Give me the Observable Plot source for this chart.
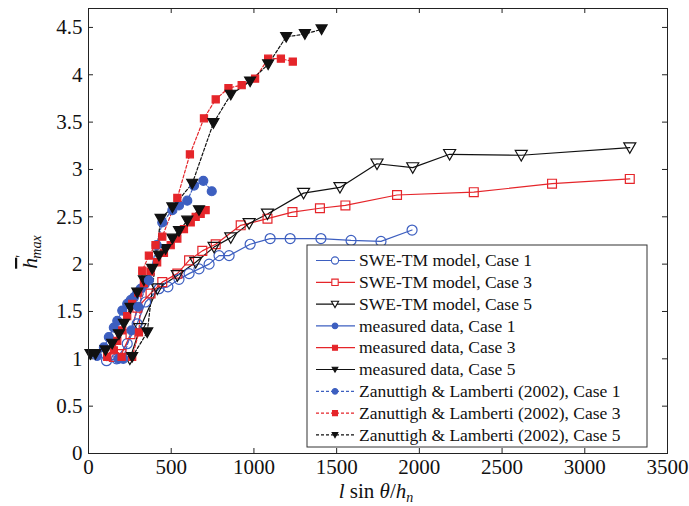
<!DOCTYPE html>
<html><head><meta charset="utf-8">
<script src="https://cdn.jsdelivr.net/npm/d3@7"></script>
<script src="https://cdn.jsdelivr.net/npm/@observablehq/plot@0.6"></script>
<style>body{margin:0;background:#fff} #chart svg{font-family:"Liberation Serif","Times New Roman",serif;background:#fff}</style>
</head><body><div id="chart"></div><script>
// ---- data ----
const xTicks = [0, 500, 1000, 1500, 2000, 2500, 3000, 3500];
const yTicks = [0, 0.5, 1, 1.5, 2, 2.5, 3, 3.5, 4, 4.5];
const legendLabels = [
  "SWE-TM model, Case 1", "SWE-TM model, Case 3", "SWE-TM model, Case 5",
  "measured data, Case 1", "measured data, Case 3", "measured data, Case 5",
  "Zanuttigh & Lamberti (2002), Case 1", "Zanuttigh & Lamberti (2002), Case 3", "Zanuttigh & Lamberti (2002), Case 5"
];
const swe1X = [109, 170, 234, 294, 345, 426, 480, 547, 608, 668, 729, 789, 850, 977, 1098, 1219, 1405, 1587, 1768, 1956];
const swe1Y = [0.98, 1.0, 1.16, 1.37, 1.60, 1.74, 1.76, 1.84, 1.90, 1.95, 2.00, 2.09, 2.09, 2.21, 2.27, 2.27, 2.27, 2.25, 2.24, 2.36];
const swe3X = [153, 200, 254, 295, 375, 446, 537, 608, 688, 769, 920, 1082, 1233, 1399, 1553, 1865, 2329, 2802, 3272];
const swe3Y = [1.02, 1.05, 1.26, 1.54, 1.69, 1.81, 1.90, 2.04, 2.14, 2.21, 2.41, 2.48, 2.55, 2.59, 2.62, 2.73, 2.76, 2.85, 2.90];
const swe5X = [250, 311, 416, 537, 648, 759, 860, 971, 1082, 1300, 1520, 1744, 1960, 2183, 2616, 3272];
const swe5Y = [1.0, 1.32, 1.74, 1.88, 2.02, 2.18, 2.28, 2.43, 2.53, 2.75, 2.81, 3.06, 3.02, 3.16, 3.15, 3.23];
const meas1X = [52, 93, 123, 153, 174, 204, 234, 255, 275, 295, 315, 340];
const meas1Y = [1.03, 1.12, 1.23, 1.33, 1.40, 1.51, 1.58, 1.62, 1.65, 1.70, 1.74, 1.79];
const meas3X = [113, 153, 174, 204, 234, 264, 300, 335, 375, 415, 456, 497, 537, 577, 618, 648, 678, 708];
const meas3Y = [1.02, 1.09, 1.19, 1.30, 1.45, 1.58, 1.70, 1.80, 1.92, 2.02, 2.12, 2.20, 2.27, 2.37, 2.44, 2.50, 2.53, 2.57];
const meas5X = [12, 42, 103, 143, 184, 214, 254, 295, 335, 385, 426, 466, 507, 547, 597, 668];
const meas5Y = [1.05, 1.05, 1.09, 1.16, 1.26, 1.37, 1.54, 1.70, 1.83, 1.95, 2.09, 2.16, 2.27, 2.35, 2.46, 2.57];
const zan1X = [180, 210, 260, 300, 365, 412, 446, 507, 547, 597, 638, 694, 745];
const zan1Y = [1.0, 1.0, 1.3, 1.55, 1.83, 2.20, 2.44, 2.57, 2.62, 2.67, 2.83, 2.88, 2.77];
const zan3X = [200, 264, 305, 325, 365, 405, 446, 537, 613, 698, 769, 846, 926, 1007, 1086, 1163, 1235];
const zan3Y = [1.02, 1.02, 1.28, 1.93, 2.09, 2.20, 2.29, 2.70, 3.16, 3.54, 3.74, 3.86, 3.89, 3.96, 4.17, 4.17, 4.14];
const zan5X = [264, 355, 436, 507, 627, 755, 860, 977, 1086, 1195, 1308, 1409];
const zan5Y = [1.02, 1.28, 2.48, 2.60, 2.85, 3.49, 3.79, 3.93, 4.11, 4.40, 4.43, 4.48];

// ---- styling ----
const blue = "#3d5fc0", red = "#e5252a", black = "#111111";
const triDown = {draw(ctx, size) { const r = Math.sqrt(size / Math.PI); ctx.moveTo(-r, -r * 0.8); ctx.lineTo(r, -r * 0.8); ctx.lineTo(0, r * 0.95); ctx.closePath(); }};
const xsAll = [swe1X, swe3X, swe5X, meas1X, meas3X, meas5X, zan1X, zan3X, zan5X];
const ysAll = [swe1Y, swe3Y, swe5Y, meas1Y, meas3Y, meas5Y, zan1Y, zan3Y, zan5Y];
const colors = [blue, red, black, blue, red, black, blue, red, black];
const symbols = ["circle", "square", triDown, "circle", "square", triDown, "circle", "square", triDown];
const open = [true, true, true, false, false, false, false, false, false];
const dashes = [null, null, null, null, null, null, "3,2", "3,2", "3,2"];
const radii = [5, 5, 6, 4.5, 4, 5.5, 4.5, 4, 5.5];

const series = legendLabels.map((name, i) => ({
  name, color: colors[i], symbol: symbols[i], open: open[i], dash: dashes[i], r: radii[i],
  rows: xsAll[i].map((x, j) => ({x, y: ysAll[i][j]}))
}));

const W = 689, H = 506, mL = 88, mR = 22, mT = 8, mB = 53;
const plotW = W - mL - mR, plotH = H - mT - mB;

const marks = [
  Plot.tickX(xTicks, {x: d => d, insetTop: plotH - 5, stroke: "#222"}),
  Plot.tickX(xTicks, {x: d => d, insetBottom: plotH - 5, stroke: "#222"}),
  Plot.tickY(yTicks, {y: d => d, insetRight: plotW - 5, stroke: "#222"}),
  Plot.tickY(yTicks, {y: d => d, insetLeft: plotW - 5, stroke: "#222"}),
  Plot.axisX(xTicks, {tickSize: 0, tickPadding: 6, label: null, tickFormat: d => String(d), fill: "#111"}),
  Plot.axisY(yTicks, {tickSize: 0, tickPadding: 6, label: null, tickFormat: d => String(d), fill: "#111"}),
];
series.forEach(s => {
  marks.push(Plot.line(s.rows, {x: "x", y: "y", stroke: s.color, strokeWidth: 1.2, strokeDasharray: s.dash}));
});
series.forEach(s => {
  marks.push(Plot.dot(s.rows, {x: "x", y: "y", symbol: () => s.symbol, r: s.r,
    fill: s.open ? "none" : s.color, stroke: s.color, strokeWidth: 1.2}));
});
marks.push(Plot.frame({stroke: "#222", strokeWidth: 1}));

const chart = Plot.plot({
  width: W, height: H, marginLeft: mL, marginRight: mR, marginTop: mT, marginBottom: mB,
  x: {domain: [0, 3500], axis: null},
  y: {domain: [0, 4.7], axis: null},
  symbol: {type: "identity"},
  style: {fontFamily: "Liberation Serif, Times New Roman, serif", fontSize: "21px", background: "#fff"},
  marks
});
document.getElementById("chart").appendChild(chart);

// ---- legend (inside the frame, lower right) ----
const svg = d3.select(chart);
const lg = svg.append("g").attr("transform", "translate(307,245)").attr("text-anchor", "start");
lg.append("rect").attr("width", 340).attr("height", 202).attr("fill", "#fff").attr("stroke", "#333").attr("stroke-width", 1);
const symMap = s => s === "circle" ? d3.symbolCircle : s === "square" ? d3.symbolSquare : s;
series.forEach((s, i) => {
  const cy = 15.5 + i * 21.8;
  lg.append("line").attr("x1", 9).attr("x2", 48).attr("y1", cy).attr("y2", cy)
    .attr("stroke", s.color).attr("stroke-width", 1.2).attr("stroke-dasharray", s.dash);
  const rr = s.open ? 3.6 : 2.8;
  lg.append("path").attr("transform", `translate(28,${cy})`)
    .attr("d", d3.symbol(symMap(s.symbol), rr * rr * Math.PI)())
    .attr("fill", s.open ? "#fff" : s.color).attr("stroke", s.color).attr("stroke-width", 1.1);
  lg.append("text").attr("x", 52).attr("y", cy).attr("dy", "0.33em").attr("text-anchor", "start")
    .attr("font-size", 17.5).attr("fill", "#111").text(s.name);
});

// ---- axis titles ----
const xt = svg.append("text").attr("x", 376).attr("y", 498).attr("text-anchor", "middle")
  .attr("font-size", 21).attr("fill", "#111");
xt.append("tspan").attr("font-style", "italic").text("l");
xt.append("tspan").text(" sin ");
xt.append("tspan").attr("font-style", "italic").text("θ");
xt.append("tspan").text("/");
xt.append("tspan").attr("font-style", "italic").text("h");
xt.append("tspan").attr("font-style", "italic").attr("font-size", 14).attr("dy", 4).text("n");

const yt = svg.append("text").attr("transform", "translate(37,252) rotate(-90)")
  .attr("text-anchor", "middle").attr("font-size", 22).attr("fill", "#111");
yt.append("tspan").attr("font-style", "italic").attr("text-decoration", "overline").text("h");
yt.append("tspan").attr("font-size", 14).attr("dy", -11).text("′");
yt.append("tspan").attr("font-style", "italic").attr("font-size", 14).attr("dx", -4).attr("dy", 15).text("max");
</script></body></html>
